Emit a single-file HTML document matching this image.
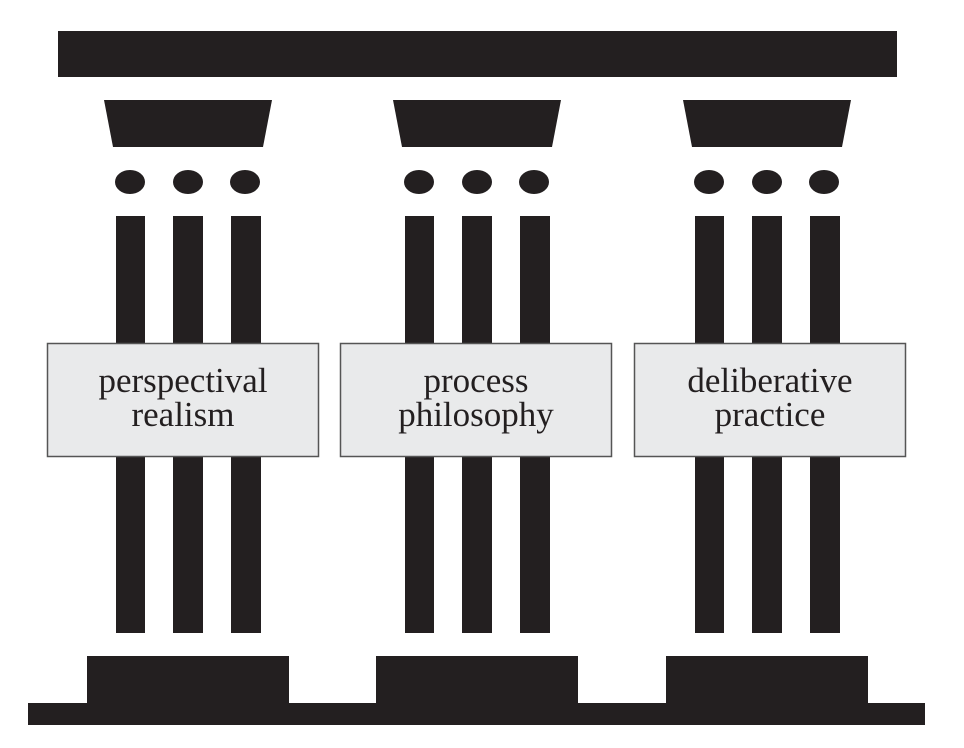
<!DOCTYPE html>
<html><head><meta charset="utf-8"><style>html,body{margin:0;padding:0;background:#fff;}svg{display:block}</style></head>
<body>
<svg width="964" height="748" viewBox="0 0 964 748" xmlns="http://www.w3.org/2000/svg">
<rect width="964" height="748" fill="#fff"/>
<g fill="#231f20">
<rect x="58" y="31" width="839" height="46"/>
<rect x="28" y="703" width="897" height="22"/>
</g>
<g id="c1" fill="#231f20">
<polygon points="104,100 272,100 263,147 113,147"/>
<ellipse cx="130" cy="182" rx="15" ry="12"/>
<ellipse cx="188" cy="182" rx="15" ry="12"/>
<ellipse cx="245" cy="182" rx="15" ry="12"/>
<rect x="116" y="216" width="29" height="417"/>
<rect x="173" y="216" width="30" height="417"/>
<rect x="231" y="216" width="30" height="417"/>
<rect x="87" y="656" width="202" height="48"/>
</g>
<use href="#c1" x="289"/>
<use href="#c1" x="579"/>
<g fill="#e9eaeb" stroke="#555" stroke-width="1.5">
<rect x="47.5" y="343.5" width="271" height="113"/>
<rect x="340.5" y="343.5" width="271" height="113"/>
<rect x="634.5" y="343.5" width="271" height="113"/>
</g>
<g font-family="Liberation Serif, serif" font-size="35" fill="#231f20" text-anchor="middle">
<text x="183" y="392">perspectival</text>
<text x="183" y="426">realism</text>
<text x="476" y="392">process</text>
<text x="476" y="426">philosophy</text>
<text x="770" y="392">deliberative</text>
<text x="770" y="426">practice</text>
</g>
</svg>
</body></html>
